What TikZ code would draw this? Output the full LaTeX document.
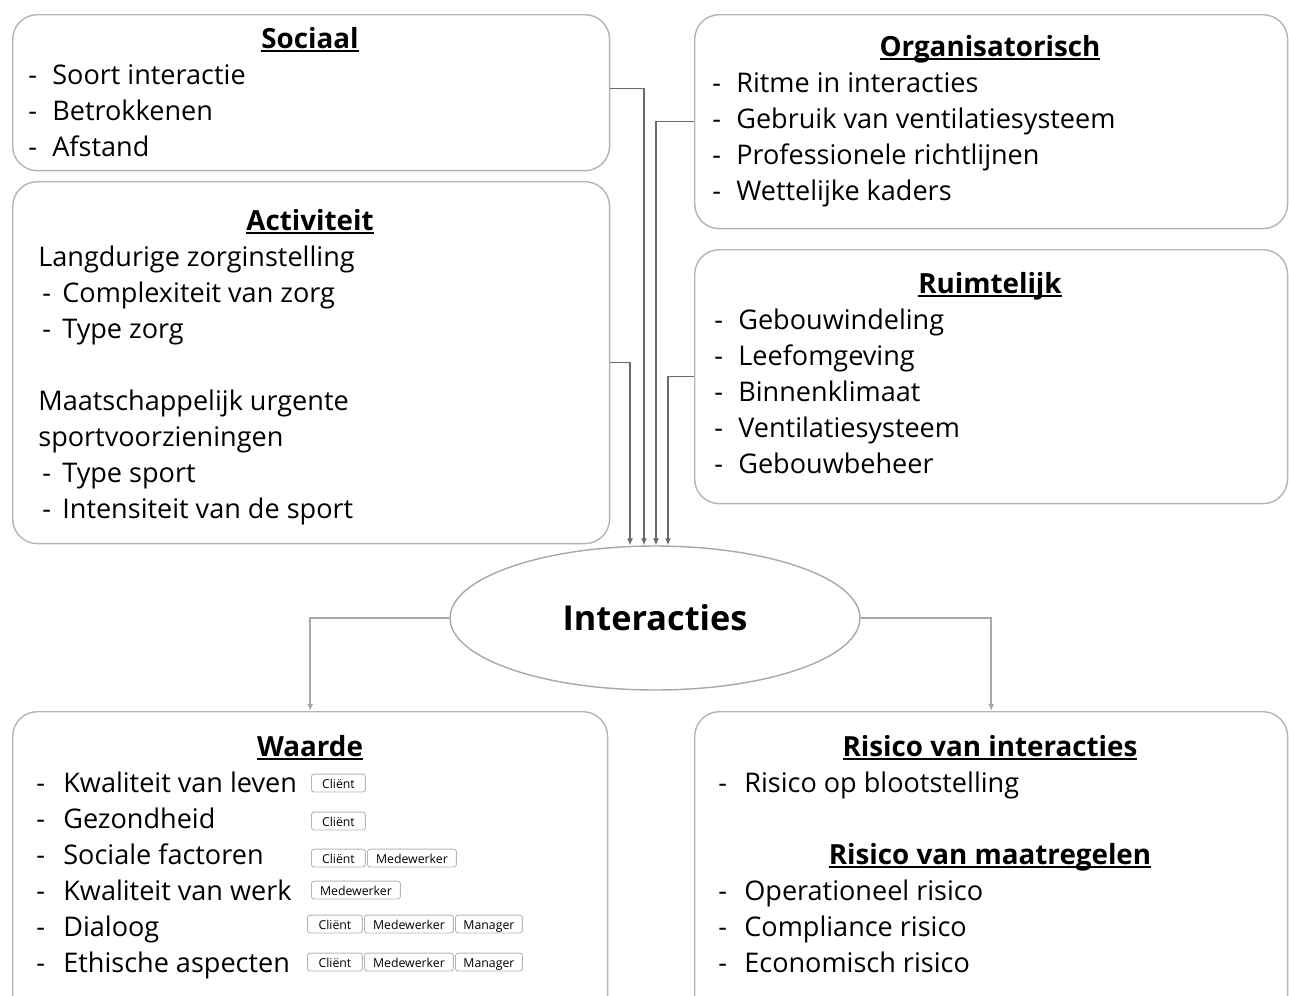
\documentclass[tikz,border=0pt]{standalone}
\usepackage{fontspec}
\setmainfont{Open Sans}
\usetikzlibrary{shapes.geometric,arrows.meta}
\definecolor{rand}{HTML}{B4B4B4}
\definecolor{pijlkleur}{HTML}{6A6A6A}
\definecolor{lijnkleur}{HTML}{A8A8A8}
% underline at a fixed distance below the baseline, through the descenders
\newcommand\onder[1]{\setbox0\hbox{#1}\rlap{\rule[-2.2pt]{\wd0}{0.85pt}}\box0}
\tikzset{
    vak/.style={draw=rand, line width=0.8pt, rounded corners=14pt, anchor=north west, inner sep=0pt},
    kop/.style={font=\fontsize{15.8}{18}\selectfont\bfseries, anchor=base, inner sep=0pt},
    tekst/.style={font=\fontsize{15.4}{18}\selectfont, anchor=base west, inner sep=0pt},
    kaartje/.style={draw=rand, line width=0.5pt, rounded corners=1.5pt, font=\fontsize{7}{8}\selectfont,
        minimum height=0.28cm, inner sep=0pt, text height=1.55ex, text depth=0.35ex, anchor=west},
    pijl/.style={draw=pijlkleur, line width=0.8pt, -{Latex[length=4pt,width=3.5pt]}},
    uit/.style={draw=lijnkleur, line width=0.8pt, -{Latex[length=4pt,width=3.5pt]}},
}
\begin{document}
\begin{tikzpicture}[x=0.02cm, y=-0.02cm]
        \clip (0,0) rectangle (1289,995);
        %% boxes
        \node[vak, minimum width=11.94cm, minimum height=3.12cm] (soc) at (12,14) {};
        \node[vak, minimum width=11.94cm, minimum height=7.24cm] (act) at (12,181) {};
        \node[vak, minimum width=11.86cm, minimum height=4.28cm] (org) at (694,14) {};
        \node[vak, minimum width=11.86cm, minimum height=5.08cm] (ruim) at (694,249) {};
        \node[vak, minimum width=11.90cm, minimum height=6.40cm] (waarde) at (12,711) {};
        \node[vak, minimum width=11.86cm, minimum height=6.40cm] (risico) at (694,711) {};
        \node[ellipse, draw=lijnkleur, line width=0.8pt, minimum width=8.2cm, minimum height=2.88cm,
            font=\fontsize{19.5}{22}\selectfont\bfseries] (ia) at (655,618) {Interacties};

        %% sociaal
        \node[kop] (soc-kop) at (310,48) {\onder{Sociaal}};
        \foreach \t [count=\i] in {Soort interactie, Betrokkenen, Afstand} {
            \node[tekst] (soc-s\i) at (28,48+36*\i) {-};
            \node[tekst] (soc-\i) at (52,48+36*\i) {\t};
        }

        %% activiteit
        \node[kop] (act-kop) at (310,230) {\onder{Activiteit}};
        \node[tekst] (act-a) at (38,266) {Langdurige zorginstelling};
        \node[tekst] (act-b) at (38,410) {Maatschappelijk urgente};
        \node[tekst] (act-c) at (38,446) {sportvoorzieningen};
        \foreach \t/\y [count=\i] in {Complexiteit van zorg/302, Type zorg/338,
                Type sport/482, Intensiteit van de sport/518} {
            \node[tekst] (act-s\i) at (42,\y) {-};
            \node[tekst] (act-\i) at (62,\y) {\t};
        }

        %% organisatorisch
        \node[kop] (org-kop) at (990,56) {\onder{Organisatorisch}};
        \foreach \t [count=\i] in {Ritme in interacties, Gebruik van ventilatiesysteem,
                Professionele richtlijnen, Wettelijke kaders} {
            \node[tekst] (org-s\i) at (712,56+36*\i) {-};
            \node[tekst] (org-\i) at (736,56+36*\i) {\t};
        }

        %% ruimtelijk
        \node[kop] (ruim-kop) at (990,293) {\onder{Ruimtelijk}};
        \foreach \t [count=\i] in {Gebouwindeling, Leefomgeving, Binnenklimaat,
                Ventilatiesysteem, Gebouwbeheer} {
            \node[tekst] (ruim-s\i) at (714,293+36*\i) {-};
            \node[tekst] (ruim-\i) at (738,293+36*\i) {\t};
        }

        %% waarde
        \node[kop] (waarde-kop) at (310,756) {\onder{Waarde}};
        \foreach \t [count=\i] in {Kwaliteit van leven, Gezondheid, Sociale factoren,
                Kwaliteit van werk, Dialoog, Ethische aspecten} {
            \node[tekst] (waarde-s\i) at (36,756+36*\i) {-};
            \node[tekst] (waarde-\i) at (63,756+36*\i) {\t};
        }
        %% who it concerns
        \node[kaartje, minimum width=1.08cm] (k1a) at (311,783) {Cliënt};
        \node[kaartje, minimum width=1.08cm] (k2a) at (311,821) {Cliënt};
        \node[kaartje, minimum width=1.08cm] (k3a) at (311,858) {Cliënt};
        \node[kaartje, minimum width=1.78cm] (k3b) at (367,858) {Medewerker};
        \node[kaartje, minimum width=1.78cm] (k4b) at (311,890) {Medewerker};
        \foreach \y/\r in {924/5,962/6} {
            \node[kaartje, minimum width=1.10cm] (k\r a) at (307,\y) {Cliënt};
            \node[kaartje, minimum width=1.78cm] (k\r b) at (364,\y) {Medewerker};
            \node[kaartje, minimum width=1.34cm] (k\r c) at (455,\y) {Manager};
        }

        %% risico
        \node[kop] (ris-kop) at (990,756) {\onder{Risico van interacties}};
        \node[tekst] (ris-s1) at (718,792) {-};
        \node[tekst] (ris-1) at (744,792) {Risico op blootstelling};
        \node[kop] (maat-kop) at (990,864) {\onder{Risico van maatregelen}};
        \foreach \t [count=\i] in {Operationeel risico, Compliance risico, Economisch risico} {
            \node[tekst] (maat-s\i) at (718,864+36*\i) {-};
            \node[tekst] (maat-\i) at (744,864+36*\i) {\t};
        }

        %% into the ellipse
        \draw[pijl] (act.east) -| ([xshift=-0.5cm]ia.north);
        \draw[pijl] ([yshift=0.08cm]soc.east) -| ([xshift=-0.22cm]ia.north);
        \draw[pijl] (org.west) -| ([xshift=0.02cm]ia.north);
        \draw[pijl] (ruim.west) -| ([xshift=0.26cm]ia.north);
        %% out of the ellipse
        \draw[uit] (ia.west) -| (waarde.north);
        \draw[uit] (ia.east) -| (risico.north);
    \end{tikzpicture}
\end{document}
